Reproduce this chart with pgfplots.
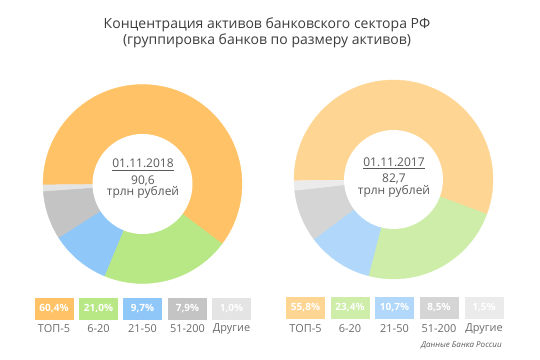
\documentclass[border=0pt]{standalone}
\usepackage{pgfplots}
\pgfplotsset{compat=1.18}
\usepackage{pgfplotstable}
\usepackage{fontspec}
\setmainfont{Open Sans}
\definecolor{L0}{HTML}{FFC266}
\definecolor{L1}{HTML}{B8E886}
\definecolor{L2}{HTML}{8FC8F8}
\definecolor{L3}{HTML}{C4C4C4}
\definecolor{L4}{HTML}{E4E4E4}
\definecolor{R0}{HTML}{FED592}
\definecolor{R1}{HTML}{CDEDA9}
\definecolor{R2}{HTML}{B1D8FA}
\definecolor{R3}{HTML}{D5D5D5}
\definecolor{R4}{HTML}{EBEBEB}
\definecolor{titlecol}{HTML}{3C3C3C}
\definecolor{txtcol}{HTML}{5A5A5A}
\definecolor{labcol}{HTML}{6A6A6A}

\pgfplotstableread{
val
60.4
21.0
9.7
7.9
1.0
}\tblL
\pgfplotstableread{
val
55.8
23.4
10.7
8.5
1.5
}\tblR

% #1 table, #2 colour prefix, #3 cx, #4 cy, #5 outer radius, #6 inner radius
\newcommand\donut[6]{%
  \def\ang{180.5}%
  \pgfplotsforeachungrouped \i in {0,...,4}{%
    \pgfplotstablegetelem{\i}{val}\of{#1}%
    \pgfmathsetmacro\angb{\ang-3.6*\pgfplotsretval}%
    \edef\cmd{\noexpand\fill[#2\i, draw=#2\i, line width=0.3pt] (axis cs:#3,#4) -- ++(\ang:#5) arc[start angle=\ang,end angle=\angb,radius=#5] -- cycle;}%
    \cmd
    \let\ang\angb
  }%
  \fill[white] (axis cs:#3,#4) circle[radius=#6];
}

\begin{document}
\begin{tikzpicture}
\begin{axis}[
  scale only axis, width=405pt, height=270pt,
  xmin=0, xmax=540, ymin=0, ymax=360,
  hide axis, clip=false,
]
\path (axis cs:0,0) rectangle (axis cs:540,360);

% title
\node[align=center, text=titlecol, font=\fontsize{10.5}{12}\selectfont] at (axis cs:267,327)
  {Концентрация активов банковского сектора РФ\\(группировка банков по размеру активов)};

% donuts
\donut{\tblL}{L}{142.5}{176}{74.6pt}{37.5pt}
\donut{\tblR}{R}{393.5}{180.5}{74.6pt}{37.1pt}

% centre texts
\begin{scope}[every node/.style={text=txtcol, font=\fontsize{9}{10}\selectfont, inner sep=0pt}]
\node at (axis cs:143,195) {\underline{01.11.2018}};
\node at (axis cs:143,179) {90,6};
\node at (axis cs:143,167.5) {трлн рублей};
\node at (axis cs:394,196.5) {\underline{01.11.2017}};
\node at (axis cs:394,181) {82,7};
\node at (axis cs:394,169) {трлн рублей};
\end{scope}

% legend boxes
\begin{scope}[every node/.style={minimum width=29.25pt, minimum height=16pt, inner sep=0pt, text=white, font=\bfseries\fontsize{7.5}{9}\selectfont}]
\node[fill=L0] at (axis cs:54,51) {60,4\%};
\node[fill=L1] at (axis cs:98.5,51) {21,0\%};
\node[fill=L2] at (axis cs:142.5,51) {9,7\%};
\node[fill=L3] at (axis cs:187.5,51) {7,9\%};
\node[fill=L4] at (axis cs:231.5,51) {1,0\%};
\node[fill=R0] at (axis cs:305.5,52) {55,8\%};
\node[fill=R1] at (axis cs:350,52) {23,4\%};
\node[fill=R2] at (axis cs:394.5,52) {10,7\%};
\node[fill=R3] at (axis cs:439,52) {8,5\%};
\node[fill=R4] at (axis cs:484,52) {1,5\%};
\end{scope}
\begin{scope}[every node/.style={inner sep=0pt, text=labcol, font=\fontsize{8.2}{9}\selectfont}]
\node at (axis cs:54,31) {ТОП-5};
\node at (axis cs:98.5,31) {6-20};
\node at (axis cs:142.5,31) {21-50};
\node at (axis cs:187.5,31) {51-200};
\node at (axis cs:231.5,31) {Другие};
\node at (axis cs:305.5,31) {ТОП-5};
\node at (axis cs:350,31) {6-20};
\node at (axis cs:394.5,31) {21-50};
\node at (axis cs:439,31) {51-200};
\node at (axis cs:484,31) {Другие};
\end{scope}

\node[anchor=east, inner sep=0pt, text=txtcol, font=\itshape\fontsize{6}{7}\selectfont] at (axis cs:502,15) {Данные Банка России};
\end{axis}
\end{tikzpicture}
\end{document}
